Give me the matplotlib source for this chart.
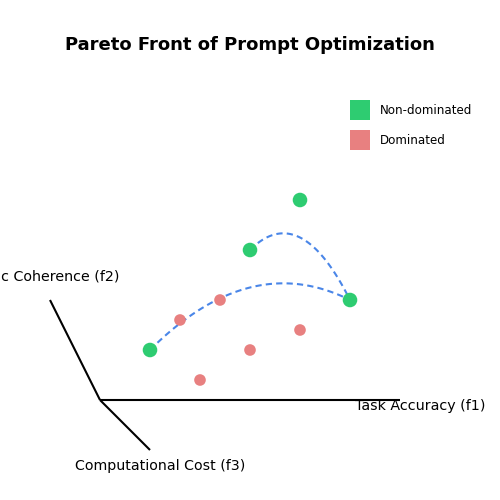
import matplotlib
matplotlib.use("Agg")
import matplotlib.pyplot as plt
import numpy as np

# Data (projected positions in chart space)
nd_x = [150, 250, 300, 350]
nd_y = [350, 250, 200, 300]
dom_x = [180, 220, 250, 300, 200]
dom_y = [320, 300, 350, 330, 380]
# Pareto front curves: (start, control, end) indices into non-dominated points
front_curves = [(0, 1, 3), (1, 2, 3)]

title = "Pareto Front of Prompt Optimization"
axis_labels = ["Task Accuracy (f1)", "Semantic Coherence (f2)", "Computational Cost (f3)"]
legend_labels = ["Non-dominated", "Dominated"]

GREEN = "#2ecc71"
RED = "#e88080"
BLUE = "#4a86e8"

fig = plt.figure(figsize=(5, 5), dpi=100)
ax = fig.add_axes([0, 0, 1, 1])
ax.set_xlim(0, 500)
ax.set_ylim(500, 0)
ax.axis("off")

# axes lines
origin = (100, 400)
ax.plot([origin[0], 400], [origin[1], 400], color="black", lw=1.5, solid_capstyle="butt")
ax.plot([origin[0], 50], [origin[1], 300], color="black", lw=1.5, solid_capstyle="butt")
ax.plot([origin[0], 150], [origin[1], 450], color="black", lw=1.5, solid_capstyle="butt")

ax.text(355, 410, axis_labels[0], fontsize=10.3, ha="left", va="baseline")
ax.text(120, 280, axis_labels[1], fontsize=10.3, ha="right", va="baseline")
ax.text(160, 470, axis_labels[2], fontsize=10.2, ha="center", va="baseline")

# curves (quadratic Bezier)
t = np.linspace(0, 1, 100)
for a, c, b in front_curves:
    x0, y0 = nd_x[a], nd_y[a]
    cx, cy = nd_x[c], nd_y[c]
    x1, y1 = nd_x[b], nd_y[b]
    bx = (1 - t) ** 2 * x0 + 2 * t * (1 - t) * cx + t ** 2 * x1
    by = (1 - t) ** 2 * y0 + 2 * t * (1 - t) * cy + t ** 2 * y1
    ax.plot(bx, by, color=BLUE, lw=1.5, ls=(0, (3, 2)), zorder=2)

ax.scatter(dom_x, dom_y, s=70, color=RED, edgecolors="none", zorder=3)
ax.scatter(nd_x, nd_y, s=110, color=GREEN, edgecolors="none", zorder=4)

# legend
ax.add_patch(plt.Rectangle((350, 100), 20, 20, color=GREEN, lw=0))
ax.add_patch(plt.Rectangle((350, 130), 20, 20, color=RED, lw=0))
ax.text(380, 111, legend_labels[0], fontsize=8.6, ha="left", va="center")
ax.text(380, 141, legend_labels[1], fontsize=8.6, ha="left", va="center")

ax.text(250, 49.5, title, fontsize=13, fontweight="bold", ha="center", va="baseline")

fig.savefig("out.png", dpi=100)
